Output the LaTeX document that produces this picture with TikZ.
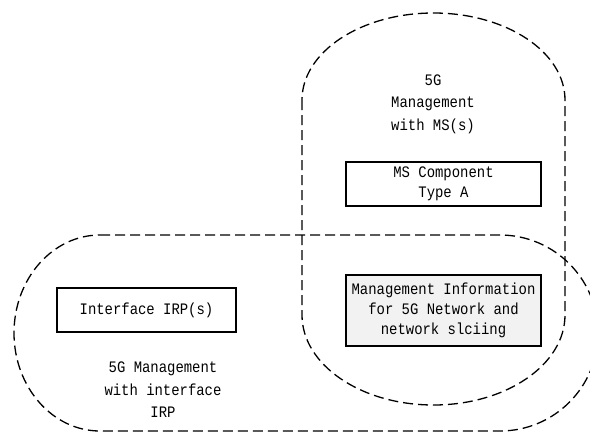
\documentclass[tikz,border=0pt]{standalone}
\usepackage{fontspec}
\newfontfamily\diafont[FakeStretch=0.87]{Liberation Mono}
\begin{document}
\begin{tikzpicture}[x=1pt,y=-1pt,
  region/.style={draw=black,line width=1.3pt,dash pattern=on 10pt off 5pt},
  box/.style={draw=black,line width=1.4pt,minimum width=195pt,align=center,inner sep=0pt,
    font=\diafont\fontsize{16}{20}\selectfont},
  lbl/.style={align=center,font=\diafont\fontsize{16}{22.5}\selectfont}]
\useasboundingbox (0,0) rectangle (590,432);
\begin{scope}
\clip (0,0) rectangle (590,432);
% MS region
\draw[region] (302,100) -- (302,315)
  arc[start angle=180,end angle=0,x radius=131.5,y radius=90]
  -- (565,100)
  arc[start angle=0,end angle=-180,x radius=131.5,y radius=87] -- cycle;
% IRP region
\draw[region] (100,235) -- (500,235)
  arc[start angle=-90,end angle=90,x radius=98,y radius=98]
  -- (100,431)
  arc[start angle=90,end angle=270,x radius=86,y radius=98] -- cycle;
\end{scope}
\node[box,minimum height=44pt] (msc) at (443.5,184) {MS Component\\Type A};
\node[box,minimum width=179pt,minimum height=44pt] (irp) at (146.5,310) {Interface IRP(s)};
\node[box,fill={rgb,255:red,242;green,242;blue,242},minimum height=71pt] (mi) at (443.5,310.5)
  {Management Information\\for 5G Network and\\network slciing};
\node[lbl] (ms) at (433,104) {5G\\Management\\with MS(s)};
\node[lbl] (ir) at (163,390) {5G Management\\with interface\\IRP};
\end{tikzpicture}
\end{document}
